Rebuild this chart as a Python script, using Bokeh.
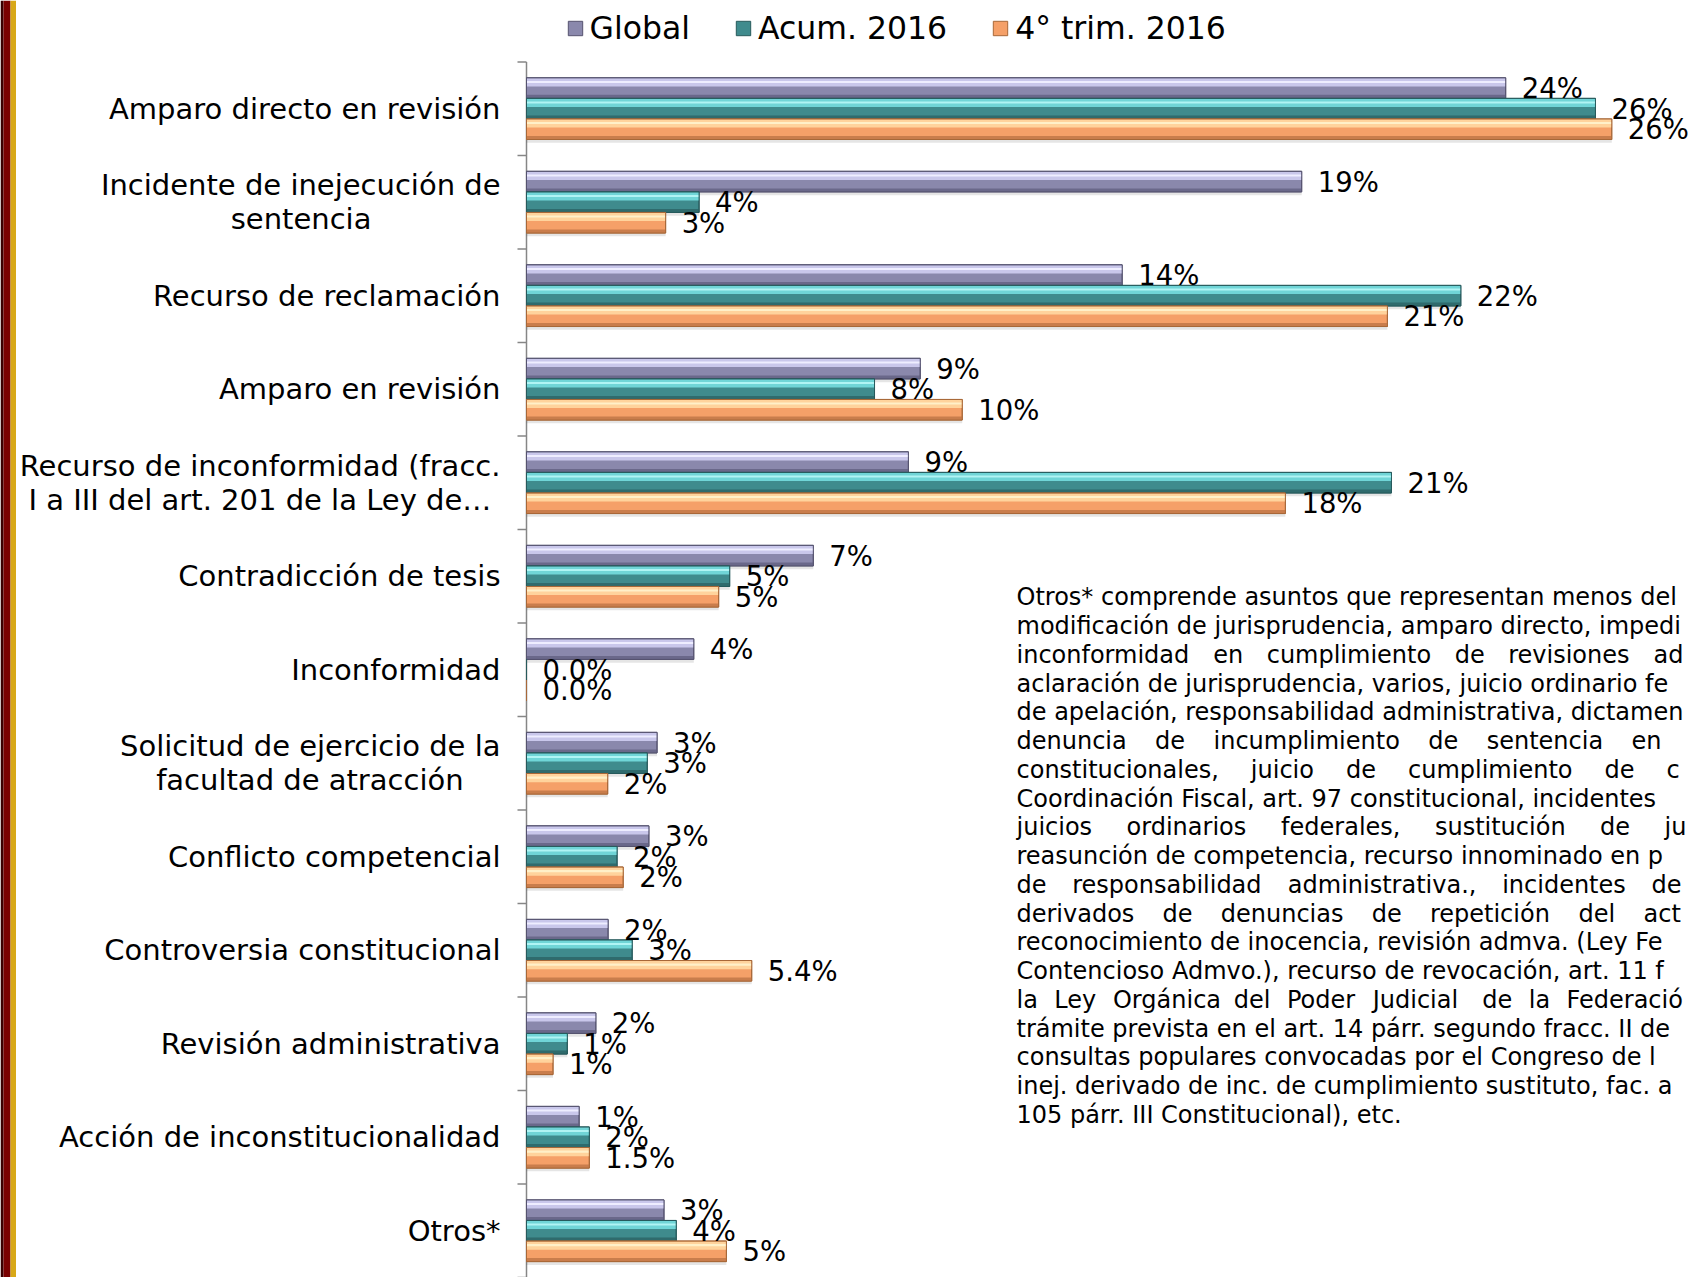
from bokeh.plotting import figure
from bokeh.models import (Range1d, LinearAxis, FixedTicker, Legend, LegendItem, ColumnDataSource)
from bokeh.transform import dodge
from bokeh.layouts import row
from bokeh.embed import file_html
from bokeh.resources import INLINE
from bokeh.core.properties import value

# ---------------- data ----------------
categories = [
    "Amparo directo en revisión",
    "Incidente de inejecución de\nsentencia",
    "Recurso de reclamación",
    "Amparo en revisión",
    "Recurso de inconformidad (fracc.\nI a III del art. 201 de la Ley de…",
    "Contradicción de tesis",
    "Inconformidad",
    "Solicitud de ejercicio de la\nfacultad de atracción",
    "Conflicto competencial",
    "Controversia constitucional",
    "Revisión administrativa",
    "Acción de inconstitucionalidad",
    "Otros*",
]
series_names = ["Global", "Acum. 2016", "4° trim. 2016"]
global_vals = [24.0, 19.0, 14.6, 9.65, 9.36, 7.03, 4.1, 3.2, 3.0, 2.0, 1.7, 1.29, 3.37]
acum_vals = [26.2, 4.23, 22.9, 8.53, 21.2, 4.98, 0.0, 2.96, 2.22, 2.59, 1.0, 1.54, 3.67]
trim_vals = [26.6, 3.41, 21.1, 10.68, 18.6, 4.71, 0.0, 1.99, 2.37, 5.52, 0.65, 1.54, 4.90]
global_labels = ["24%", "19%", "14%", "9%", "9%", "7%", "4%", "3%", "3%", "2%", "2%", "1%", "3%"]
acum_labels = ["26%", "4%", "22%", "8%", "21%", "5%", "0.0%", "3%", "2%", "3%", "1%", "2%", "4%"]
trim_labels = ["26%", "3%", "21%", "10%", "18%", "5%", "0.0%", "2%", "2%", "5.4%", "1%", "1.5%", "5%"]

note_lines = [
    "Otros* comprende asuntos que representan menos del",
    "modificación de jurisprudencia, amparo directo, impedi",
    "inconformidad en cumplimiento de revisiones ad",
    "aclaración de jurisprudencia, varios, juicio ordinario fe",
    "de apelación, responsabilidad administrativa, dictamen",
    "denuncia de incumplimiento de sentencia en",
    "constitucionales, juicio de cumplimiento de c",
    "Coordinación Fiscal, art. 97 constitucional, incidentes",
    "juicios ordinarios federales, sustitución de ju",
    "reasunción de competencia, recurso innominado en p",
    "de responsabilidad administrativa., incidentes de",
    "derivados de denuncias de repetición del act",
    "reconocimiento de inocencia, revisión admva. (Ley Fe",
    "Contencioso Admvo.), recurso de revocación, art. 11 f",
    "la Ley Orgánica del Poder Judicial de la Federació",
    "trámite prevista en el art. 14 párr. segundo fracc. II de",
    "consultas populares convocadas por el Congreso de l",
    "inej. derivado de inc. de cumplimiento sustituto, fac. a",
    "105 párr. III Constitucional), etc.",
]

# ---------------- layout constants (pixels) ----------------
STRIPE_W = 16
FIG_W, FIG_H = 1689 - STRIPE_W, 1277
AXIS_PAGE_X = 526           # page x of the value axis line
FRAME_PAGE_X = 516          # frame starts a little left of the axis (room for ticks)
BAND_TOP = 61.4             # page y of the top tick
PX_PER_PCT = 40.8
N = len(categories)
PX_PER_BAND = (FIG_H - BAND_TOP) / N
X_START = -(AXIS_PAGE_X - FRAME_PAGE_X) / PX_PER_PCT
X_END = (1689 - AXIS_PAGE_X) / PX_PER_PCT
Y_END = FIG_H / PX_PER_BAND
FONT = "DejaVu Sans"

W = {' ': .318, '\u00a0': .318, 'a': .613, 'b': .635, 'c': .550, 'd': .635, 'e': .615,
     'f': .352, 'g': .635, 'h': .634, 'i': .278, 'j': .278, 'k': .579, 'l': .278, 'm': .974,
     'n': .634, 'o': .612, 'p': .635, 'q': .635, 'r': .411, 's': .521, 't': .392, 'u': .634,
     'v': .592, 'w': .818, 'x': .592, 'y': .592, 'z': .525, ',': .318, '.': .318, 'á': .613,
     'é': .615, 'í': .278, 'ó': .612, 'ú': .634, 'I': .295, 'R': .695, 'S': .635, 'L': .557,
     '(': .390, ')': .390, '…': 1.0}


def text_w(s, fs):
    return sum(W.get(c, 0.62) for c in s) * fs


# multi-line category labels: centre the lines within the right-aligned block
LABEL_FS = 29.0


def centred(label):
    lines = label.split("\n")
    if len(lines) == 1:
        return label
    wmax = max(text_w(ln, LABEL_FS) for ln in lines)
    out = []
    for ln in lines:
        pad = int(round((wmax - text_w(ln, LABEL_FS)) / 2 / (W['\u00a0'] * LABEL_FS)))
        out.append(ln + "\u00a0" * pad)
    return "\n".join(out)


positions = [N - i - 0.5 for i in range(N)]

p = figure(width=FIG_W, height=FIG_H, output_backend="svg", toolbar_location=None,
           x_range=Range1d(X_START, X_END), y_range=Range1d(0, Y_END),
           x_axis_location=None, y_axis_location=None,
           min_border_left=FRAME_PAGE_X - STRIPE_W, min_border_right=0,
           min_border_top=0, min_border_bottom=0,
           outline_line_color=None, background_fill_color="white",
           border_fill_color="white")
p.xgrid.visible = False
p.ygrid.visible = False

label_axis = LinearAxis(ticker=FixedTicker(ticks=positions),
                        major_label_overrides={pos: centred(c) for pos, c in zip(positions, categories)},
                        axis_line_color=None, major_tick_line_color=None,
                        minor_tick_line_color=None,
                        major_tick_out=0, major_tick_in=0,
                        major_label_standoff=16,
                        major_label_text_font=FONT,
                        major_label_text_font_size=f"{LABEL_FS}px",
                        major_label_text_line_height=1.0,
                        major_label_text_color="black")
p.add_layout(label_axis, "left")

# category axis line and boundary ticks
TICK = 9 / PX_PER_PCT
p.segment(x0=0, y0=0, x1=0, y1=N, line_color="#868686", line_width=1.5)
p.segment(x0=[-TICK] * (N + 1), y0=list(range(N + 1)), x1=[0] * (N + 1), y1=list(range(N + 1)),
          line_color="#868686", line_width=1.5)

src = ColumnDataSource(dict(pos=positions, g=global_vals, a=acum_vals, t=trim_vals,
                            gl=global_labels, al=acum_labels, tl=trim_labels))

H = 0.22
styles = [
    # col, label col, offset, lower, upper, shine, dark, edge
    ("g", "gl", H, "#8A88AC", "#C9C7EB", "#EEEDFF", "#6A688A", "#55536F"),
    ("a", "al", 0.0, "#3F8B8D", "#70D5D7", "#B0F4F4", "#2F6B6D", "#275A5C"),
    ("t", "tl", -H, "#F5A068", "#FFD39C", "#FFF0C8", "#C97D4C", "#A86838"),
]

for col, lcol, off, lower, upper, shine, dark, edge in styles:
    p.hbar(y=dodge("pos", off - 0.035), left=0, right=col, height=H,
           source=src, fill_color="black", fill_alpha=0.10, line_color=None)

base_renderers = []
for col, lcol, off, lower, upper, shine, dark, edge in styles:
    r = p.hbar(y=dodge("pos", off), left=0, right=col, height=H,
               source=src, fill_color=lower, line_color=edge, line_width=1)
    base_renderers.append(r)
    p.hbar(y=dodge("pos", off + H * 0.28), left=0, right=col,
           height=H * 0.40, source=src, fill_color=upper, line_color=None)
    p.hbar(y=dodge("pos", off + H * 0.30), left=0, right=col,
           height=H * 0.10, source=src, fill_color=shine, line_color=None)
    p.hbar(y=dodge("pos", off - H * 0.41), left=0, right=col,
           height=H * 0.16, source=src, fill_color=dark, line_color=None)
    p.hbar(y=dodge("pos", off), left=0, right=col, height=H,
           source=src, fill_color=None, line_color=edge, line_width=1)

for col, lcol, off, lower, upper, shine, dark, edge in styles:
    p.text(x=col, y=dodge("pos", off), text=lcol, source=src,
           x_offset=16, text_align="left", text_baseline="middle",
           text_font=value(FONT), text_font_size="27.5px", text_color="black")

# legend: bottom-left corner given in frame pixels from the frame's bottom-left
LEG_X = 565.5 - FRAME_PAGE_X
LEG_BOTTOM_PAGE = 46
legend = Legend(items=[LegendItem(label=n, renderers=[r]) for n, r in zip(series_names, base_renderers)],
                orientation="horizontal", location=(LEG_X, FIG_H - LEG_BOTTOM_PAGE),
                label_text_font=FONT, label_text_font_size="31.5px", label_text_color="black",
                glyph_width=18, glyph_height=18, spacing=44, label_standoff=6,
                padding=0, margin=0, border_line_color=None, background_fill_alpha=0)
p.add_layout(legend)

# ---------------- note text ----------------
NOTE_FS = 24.0
NOTE_X = 1016 - STRIPE_W      # figure px
NOTE_Y0 = 596.8               # page y (centre of first line)
NOTE_DY = 28.76
justified_last = {2: 1653, 5: 1631, 6: 1666, 8: 1664, 10: 1651, 11: 1643, 14: 1566}

xs, ys, ts = [], [], []
for k, line in enumerate(note_lines):
    yc = NOTE_Y0 + k * NOTE_DY
    ydata = (FIG_H - yc) / PX_PER_BAND
    if k in justified_last:
        words = line.split(" ")
        last_x = justified_last[k] - STRIPE_W
        inner = sum(text_w(w, NOTE_FS) for w in words[:-1])
        gap = (last_x - NOTE_X - inner) / (len(words) - 1)
        x = NOTE_X
        for w in words:
            xs.append((x + STRIPE_W - AXIS_PAGE_X) / PX_PER_PCT)
            ys.append(ydata)
            ts.append(w)
            x += text_w(w, NOTE_FS) + gap
    else:
        xs.append((NOTE_X + STRIPE_W - AXIS_PAGE_X) / PX_PER_PCT)
        ys.append(ydata)
        ts.append(line)

p.text(x=xs, y=ys, text=ts, text_align="left", text_baseline="middle",
       text_font=value(FONT), text_font_size=f"{NOTE_FS}px", text_color="black")

# ---------------- left decorative stripe ----------------
stripe = figure(width=STRIPE_W, height=FIG_H, output_backend="svg", toolbar_location=None,
                x_range=Range1d(0, STRIPE_W), y_range=Range1d(0, 1),
                x_axis_location=None, y_axis_location=None,
                min_border=0, outline_line_color=None, border_fill_color="#7A0000")
stripe.xgrid.visible = False
stripe.ygrid.visible = False
stripe.quad(left=[0, 3, 10], right=[3, 10, 16], bottom=[0, 0, 0], top=[1, 1, 1],
            fill_color=["#3A0000", "#7A0000", "#D8A818"], line_color=None)

layout = row(stripe, p, spacing=0)
open("out.html", "w").write(file_html(layout, INLINE))
